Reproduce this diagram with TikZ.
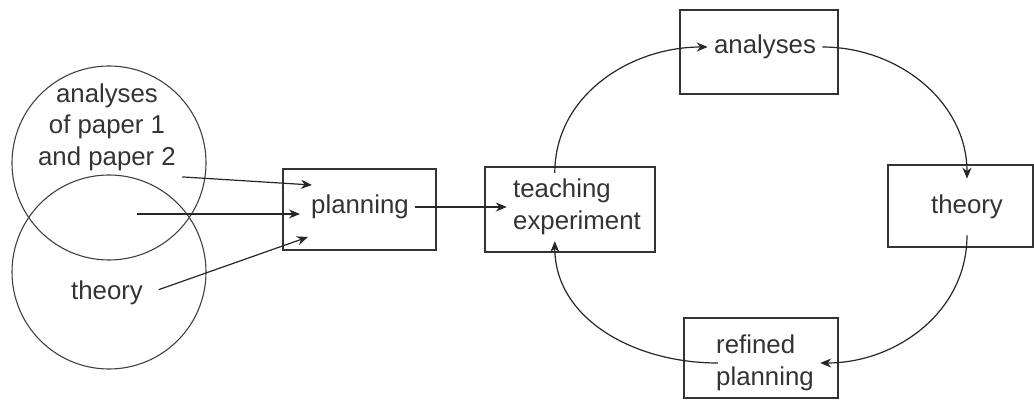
\documentclass[tikz,border=0pt]{standalone}
\usepackage{fontspec}
\setmainfont{Liberation Sans}
\usetikzlibrary{arrows.meta}

\begin{document}
\begin{tikzpicture}[
  x=0.5pt, y=-0.5pt,
  font=\fontsize{12.9}{15.75}\selectfont,
  every node/.style={text=black!80},
  box/.style={draw=black!80, line width=0.8pt},
  circ/.style={
    draw=black!75, circle, line width=0.55pt,
    minimum size=97pt, inner sep=0pt,
  },
  txt/.style={align=center, inner sep=3pt},
  flow/.style={-{Stealth[length=5.5pt,width=4.5pt]}, line width=0.6pt, draw=black!85},
]
\useasboundingbox (0,0) rectangle (1034,400);

% overlapping input circles
\node[circ] (papers) at (109,163) {};
\node[circ] (theoryc) at (109,272) {};
\node[txt] (paperstxt) at (107,127) {analyses\\of paper 1\\and paper 2};
\node[txt] (theorytxt) at (107,293) {theory};
\coordinate (overlap) at (137,214);

% boxes
\node[box, minimum width=76.5pt, minimum height=40.5pt] (planbox) at (359.5,209.5) {};
\node[box, minimum width=85pt, minimum height=42.5pt] (teachbox) at (570,209.5) {};
\node[box, minimum width=79pt, minimum height=42pt] (anabox) at (759,52) {};
\node[box, minimum width=72.5pt, minimum height=41pt] (theorybox) at (960.5,206) {};
\node[box, minimum width=77pt, minimum height=40pt] (refinedbox) at (761,358) {};

\node[txt] (plan) at (360,207) {planning};
\node[txt, align=left] (teach) at (577,207) {teaching\\experiment};
\node[txt] (ana) at (765,47) {analyses};
\node[txt, inner ysep=8pt] (theory) at (967,207) {theory};
\node[txt, align=left] (refined) at (765,363) {refined\\planning};

\coordinate (planin1) at (312,185);
\coordinate (planin2) at (300,214);
\coordinate (planin3) at (308,237);

\draw[flow] (paperstxt.south east) -- (planin1);
\draw[flow] (overlap) -- (planin2);
\draw[flow, shorten <=5pt] (theorytxt.east) -- (planin3);
\draw[flow] (plan.east) -- (teach.west);

% the cycle
\draw[flow] (teach.123) to[out=90,in=180] (ana.west);
\draw[flow] (ana.east) to[out=0,in=90] (theory.north);
\draw[flow] (theory.south) to[out=-90,in=0] (refined.east);
\draw[flow, shorten <=-4pt] (refined.west) to[out=180,in=-90] (teach.237);

\end{tikzpicture}
\end{document}
